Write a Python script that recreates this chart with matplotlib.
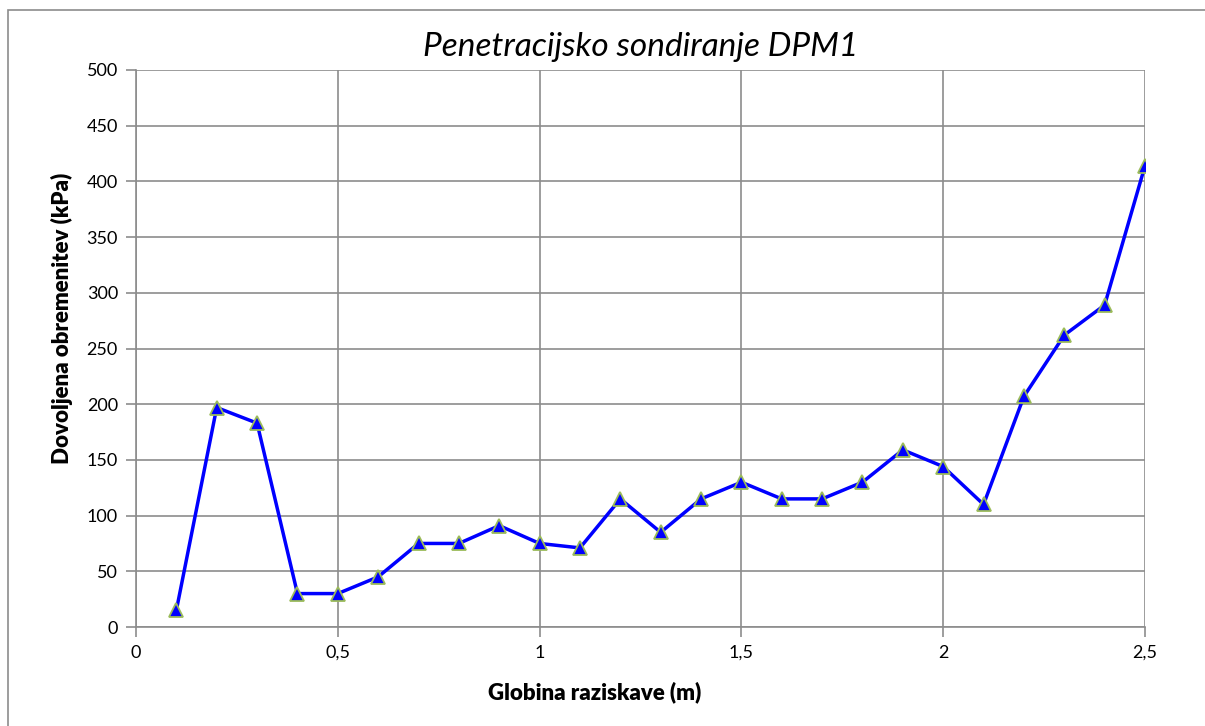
import matplotlib
matplotlib.use("Agg")
import matplotlib.pyplot as plt
from matplotlib.patches import Rectangle

depth = [0.1, 0.2, 0.3, 0.4, 0.5, 0.6, 0.7, 0.8, 0.9, 1.0, 1.1, 1.2, 1.3,
         1.4, 1.5, 1.6, 1.7, 1.8, 1.9, 2.0, 2.1, 2.2, 2.3, 2.4, 2.5]
load = [15, 197, 183, 30, 30, 45, 75, 75, 91, 75, 71, 115, 85,
        115, 130, 115, 115, 130, 159, 144, 110, 207, 262, 289, 414]
xticks = [0, 0.5, 1, 1.5, 2, 2.5]
xticklabels = ["0", "0,5", "1", "1,5", "2", "2,5"]
yticks = list(range(0, 501, 50))

plt.rcParams['font.family'] = ['Lato', 'DejaVu Sans']

fig = plt.figure(figsize=(12.05, 7.26), dpi=100)
fig.patches.append(Rectangle((8/1205, -0.1), 1.2, (726-10)/726 + 0.1,
                             transform=fig.transFigure, fill=False,
                             edgecolor='#8c8c8c', linewidth=1.2))
ax = fig.add_axes([136/1205, (726-627)/726, (1145-136)/1205, (627-70)/726])

ax.plot(depth, load, color='#0000ff', linewidth=2.5, marker='^',
        markersize=10, markerfacecolor='#0000ff', markeredgecolor='#9bbb59',
        markeredgewidth=1.3, zorder=3)

ax.set_xlim(0, 2.5)
ax.set_ylim(0, 500)
ax.set_xticks(xticks)
ax.set_xticklabels(xticklabels)
ax.set_yticks(yticks)
ax.grid(True, color='#8c8c8c', linewidth=1.2)
ax.set_axisbelow(True)
for s in ['top', 'right']:
    ax.spines[s].set_visible(False)
for s in ['left', 'bottom']:
    ax.spines[s].set_color('#8c8c8c')
    ax.spines[s].set_linewidth(1.2)
ax.tick_params(axis='both', direction='out', length=7, width=1.2,
               color='#8c8c8c', labelsize=13, pad=6)

ax.set_title("Penetracijsko sondiranje DPM1", fontsize=24, style='italic',
             pad=10)
ax.set_xlabel("Globina raziskave (m)", fontsize=16, fontweight='heavy',
              va='center', ha='center')
ax.set_ylabel("Dovoljena obremenitev (kPa)", fontsize=16, fontweight='heavy',
              va='center', ha='center')
ax.xaxis.set_label_coords((595 - 136) / 1009, (627 - 692) / 557)
ax.yaxis.set_label_coords((62 - 136) / 1009, (627 - 318) / 557)

fig.savefig("out.png", dpi=100)
